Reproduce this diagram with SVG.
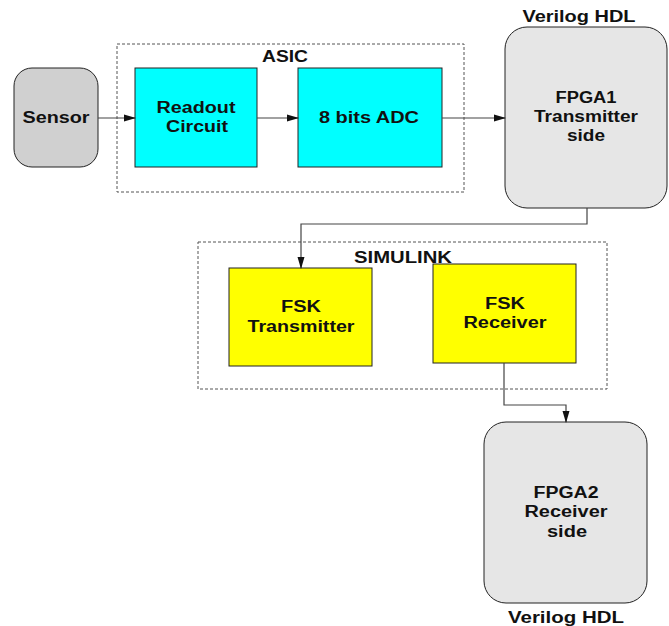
<svg xmlns="http://www.w3.org/2000/svg" width="669" height="626" viewBox="0 0 669 626">
<defs>
<style>
text{font-family:"Liberation Sans",Arial,sans-serif;font-weight:bold;font-size:16px;fill:#111;text-anchor:middle}
.box{stroke:#222;stroke-width:1}
.grp{fill:none;stroke:#555;stroke-width:1;stroke-dasharray:3,2}
.cn{fill:none;stroke:#444;stroke-width:1.2}
</style>
<marker id="ah" markerWidth="12" markerHeight="8" refX="11" refY="4" orient="auto" markerUnits="userSpaceOnUse">
<path d="M0,0.5 L12,4 L0,7.5 Z" fill="#111"/>
</marker>
</defs>
<rect width="669" height="626" fill="#fff"/>
<g id="asic">
<rect class="grp" x="117" y="44" width="347" height="148"/>
<text x="285" y="62" textLength="46" lengthAdjust="spacingAndGlyphs">ASIC</text>
</g>
<g id="simulink">
<rect class="grp" x="198" y="242" width="409" height="147"/>
<text x="403" y="263" textLength="98" lengthAdjust="spacingAndGlyphs">SIMULINK</text>
</g>
<g id="sensor">
<rect class="box" x="14" y="68" width="84" height="99" rx="18" fill="#d0d0d0"/>
<text x="56" y="123" textLength="67" lengthAdjust="spacingAndGlyphs">Sensor</text>
</g>
<g id="readout">
<rect class="box" x="135" y="68" width="122" height="99" fill="#00ffff"/>
<text x="196" y="113" textLength="79" lengthAdjust="spacingAndGlyphs">Readout</text>
<text x="197" y="132" textLength="62" lengthAdjust="spacingAndGlyphs">Circuit</text>
</g>
<g id="adc">
<rect class="box" x="298" y="68" width="144" height="99" fill="#00ffff"/>
<text x="369" y="123" textLength="100" lengthAdjust="spacingAndGlyphs">8 bits ADC</text>
</g>
<g id="fpga1">
<rect class="box" x="505" y="27" width="162" height="181" rx="22" fill="#e6e6e6"/>
<text x="579" y="22" textLength="113" lengthAdjust="spacingAndGlyphs">Verilog HDL</text>
<text x="586" y="103" textLength="61" lengthAdjust="spacingAndGlyphs">FPGA1</text>
<text x="586" y="122" textLength="104" lengthAdjust="spacingAndGlyphs">Transmitter</text>
<text x="586" y="141" textLength="38" lengthAdjust="spacingAndGlyphs">side</text>
</g>
<g id="fsk-tx">
<rect class="box" x="229" y="268" width="143" height="98" fill="#ffff00"/>
<text x="301" y="312" textLength="40" lengthAdjust="spacingAndGlyphs">FSK</text>
<text x="301" y="332" textLength="107" lengthAdjust="spacingAndGlyphs">Transmitter</text>
</g>
<g id="fsk-rx">
<rect class="box" x="433" y="264" width="143" height="99" fill="#ffff00"/>
<text x="505" y="309" textLength="40" lengthAdjust="spacingAndGlyphs">FSK</text>
<text x="505" y="328" textLength="83" lengthAdjust="spacingAndGlyphs">Receiver</text>
</g>
<g id="fpga2">
<rect class="box" x="484" y="422" width="163" height="181" rx="22" fill="#e6e6e6"/>
<text x="566" y="498" textLength="65" lengthAdjust="spacingAndGlyphs">FPGA2</text>
<text x="566" y="517" textLength="83" lengthAdjust="spacingAndGlyphs">Receiver</text>
<text x="567" y="537" textLength="40" lengthAdjust="spacingAndGlyphs">side</text>
<text x="566" y="623" textLength="116" lengthAdjust="spacingAndGlyphs">Verilog HDL</text>
</g>
<g id="connectors">
<path class="cn" d="M98,118 H135" marker-end="url(#ah)"/>
<path class="cn" d="M257,118 H298" marker-end="url(#ah)"/>
<path class="cn" d="M442,118 H505" marker-end="url(#ah)"/>
<path class="cn" d="M587,208 V224 H301 V268" marker-end="url(#ah)"/>
<path class="cn" d="M504,363 V405 H566 V422" marker-end="url(#ah)"/>
</g>
</svg>
